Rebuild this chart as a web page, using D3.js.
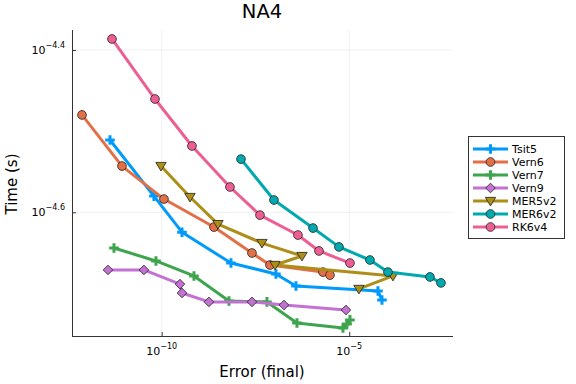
<!DOCTYPE html>
<html><head><meta charset="utf-8">
<script src="https://cdn.jsdelivr.net/npm/d3@7"></script>
<style>body{margin:0;background:#fff}svg{display:block;font-family:"DejaVu Sans",sans-serif}</style>
</head><body><svg id="c" width="576" height="384"></svg>
<script>
const seriesNames = ["Tsit5","Vern6","Vern7","Vern9","MER5v2","MER6v2","RK6v4"];
const seriesColors = ["#009AFA","#E36F47","#3EA44E","#C371D2","#AC8E18","#00A9AD","#ED5E93"];
const seriesMarkers = ["cross","circle","cross","diamond","dtriangle","circle","circle"];

const tsit5Err  = [4.19e-12, 6.23e-11, 3.48e-10, 7.03e-9, 1.11e-7, 3.80e-7, 5.82e-5, 7.44e-5];
const tsit5Time = [3.084e-5, 2.630e-5, 2.374e-5, 2.175e-5, 2.109e-5, 2.038e-5, 2.009e-5, 1.959e-5];
const vern6Err  = [7.52e-13, 8.75e-12, 1.15e-10, 2.48e-9, 2.55e-8, 7.70e-8, 1.99e-6, 3.06e-6];
const vern6Time = [3.311e-5, 2.864e-5, 2.608e-5, 2.409e-5, 2.238e-5, 2.163e-5, 2.120e-5, 2.102e-5];
const vern7Err  = [5.36e-12, 7.05e-11, 7.26e-10, 6.22e-9, 6.40e-8, 4.04e-7, 6.79e-6, 8.68e-6, 1.044e-5];
const vern7Time = [2.270e-5, 2.188e-5, 2.097e-5, 1.953e-5, 1.948e-5, 1.835e-5, 1.809e-5, 1.830e-5, 1.851e-5];
const vern9Err  = [3.71e-12, 3.37e-11, 3.07e-10, 3.48e-10, 1.82e-9, 2.55e-8, 1.82e-7, 8.17e-6];
const vern9Time = [2.133e-5, 2.133e-5, 2.049e-5, 1.998e-5, 1.948e-5, 1.948e-5, 1.931e-5, 1.904e-5];
const mer5Err   = [9.58e-11, 5.68e-10, 3.17e-9, 4.71e-8, 5.49e-7, 1.05e-7, 1.46e-4, 1.81e-5];
const mer5Time  = [2.864e-5, 2.623e-5, 2.429e-5, 2.302e-5, 2.219e-5, 2.163e-5, 2.097e-5, 2.021e-5];
const mer6Err   = [1.30e-8, 9.84e-8, 1.08e-6, 5.31e-6, 3.56e-5, 1.075e-4, 1.416e-3, 2.78e-3];
const mer6Time  = [2.921e-5, 2.601e-5, 2.402e-5, 2.277e-5, 2.194e-5, 2.120e-5, 2.091e-5, 2.056e-5];
const rk6Err    = [4.74e-12, 6.63e-11, 6.42e-10, 6.61e-9, 4.17e-8, 4.29e-7, 1.56e-6, 1.044e-5];
const rk6Time   = [4.107e-5, 3.464e-5, 3.032e-5, 2.699e-5, 2.492e-5, 2.355e-5, 2.251e-5, 2.175e-5];

const xTicks = [1e-10, 1e-5];
const xTickExp = ["\u221210", "\u22125"];
const yTicks = [Math.pow(10,-4.4), Math.pow(10,-4.6)];
const yTickExp = ["\u22124.4", "\u22124.6"];

const errs = [tsit5Err, vern6Err, vern7Err, vern9Err, mer5Err, mer6Err, rk6Err];
const times = [tsit5Time, vern6Time, vern7Time, vern9Time, mer5Time, mer6Time, rk6Time];

const svg = d3.select("#c");
const L = 72, R = 453, T = 30, B = 336;
const x = d3.scaleLog().domain([Math.pow(10,-12.39), Math.pow(10,-2.235)]).range([L, R]);
const y = d3.scaleLog().domain([Math.pow(10,-4.7524), Math.pow(10,-4.3754)]).range([B, T]);

// grid
const g = svg.append("g");
g.selectAll(".gx").data(xTicks).enter().append("line")
  .attr("x1", d=>x(d)).attr("x2", d=>x(d)).attr("y1", T).attr("y2", B)
  .attr("stroke", "#000").attr("stroke-opacity", 0.1).attr("stroke-width", 0.6);
g.selectAll(".gy").data(yTicks).enter().append("line")
  .attr("y1", d=>y(d)).attr("y2", d=>y(d)).attr("x1", L).attr("x2", R)
  .attr("stroke", "#000").attr("stroke-opacity", 0.1).attr("stroke-width", 0.6);

// axes
const xAxis = d3.axisBottom(x).tickValues(xTicks).tickSize(-4).tickFormat("");
const yAxis = d3.axisLeft(y).tickValues(yTicks).tickSize(-4).tickFormat("");
const ax = svg.append("g").attr("transform", `translate(0,${B})`).call(xAxis);
const ay = svg.append("g").attr("transform", `translate(${L},0)`).call(yAxis);
[ax, ay].forEach(a => {
  a.select(".domain").attr("stroke", "#333").attr("stroke-width", 1);
  a.selectAll(".tick line").attr("stroke", "#333").attr("stroke-width", 1);
});
ax.select(".domain").attr("d", `M${L},0.5H${R}`);
ay.select(".domain").attr("d", `M0.5,${B}V${T}`);

// tick labels
xTicks.forEach((v, i) => {
  const t = svg.append("text").attr("x", x(v)).attr("y", 355).attr("text-anchor", "middle")
    .attr("font-size", 11).attr("fill", "#000");
  t.append("tspan").text("10");
  t.append("tspan").attr("dy", -6).attr("font-size", 8).text(xTickExp[i]);
});
yTicks.forEach((v, i) => {
  const t = svg.append("text").attr("x", 65).attr("y", y(v) + 4).attr("text-anchor", "end")
    .attr("font-size", 11).attr("fill", "#000");
  t.append("tspan").text("10");
  t.append("tspan").attr("dy", -6).attr("font-size", 8).text(yTickExp[i]);
});

// titles
svg.append("text").attr("x", 262).attr("y", 18).attr("text-anchor", "middle")
  .attr("font-size", 19.5).text("NA4");
svg.append("text").attr("x", 262).attr("y", 377).attr("text-anchor", "middle")
  .attr("font-size", 15).text("Error (final)");
svg.append("text").attr("transform", "translate(16.5,184) rotate(-90)").attr("text-anchor", "middle")
  .attr("font-size", 15).text("Time (s)");

function markerPath(type) {
  if (type === "cross") {
    const a = 4.8, w = 1.5;
    return `M${-a},${-w}H${-w}V${-a}H${w}V${-w}H${a}V${w}H${w}V${a}H${-w}V${w}H${-a}Z`;
  }
  if (type === "diamond") { const s = 4.8; return `M0,${-s}L${s},0L0,${s}L${-s},0Z`; }
  if (type === "dtriangle") { const s = 5.2; return `M${-s},${-s*0.7}L${s},${-s*0.7}L0,${s*0.95}Z`; }
  return d3.symbol(d3.symbolCircle, 60)();
}

const line = d3.line().x(d => x(d[0])).y(d => y(d[1]));
const plot = svg.append("g");

seriesNames.forEach((name, i) => {
  const pts = errs[i].map((e, j) => [e, times[i][j]]);
  const sg = plot.append("g");
  sg.append("path").attr("d", line(pts)).attr("fill", "none")
    .attr("stroke", seriesColors[i]).attr("stroke-width", 3).attr("stroke-linejoin", "round");
  sg.selectAll("path.m").data(pts).enter().append("path").attr("class", "m")
    .attr("transform", d => `translate(${x(d[0])},${y(d[1])})`)
    .attr("d", markerPath(seriesMarkers[i]))
    .attr("fill", seriesColors[i])
    .attr("stroke", seriesMarkers[i] === "cross" ? "none" : "#222")
    .attr("stroke-width", 0.8);
});

// legend
const lg = svg.append("g");
lg.append("rect").attr("x", 468.5).attr("y", 136.5).attr("width", 96).attr("height", 102)
  .attr("fill", "#fff").attr("stroke", "#333").attr("stroke-width", 1);
seriesNames.forEach((name, i) => {
  const cy = 149 + i * 13;
  lg.append("line").attr("x1", 473).attr("x2", 508).attr("y1", cy).attr("y2", cy)
    .attr("stroke", seriesColors[i]).attr("stroke-width", 3);
  lg.append("path").attr("transform", `translate(490.5,${cy})`).attr("d", markerPath(seriesMarkers[i]))
    .attr("fill", seriesColors[i])
    .attr("stroke", seriesMarkers[i] === "cross" ? "none" : "#222").attr("stroke-width", 0.8);
  lg.append("text").attr("x", 512).attr("y", cy + 4).attr("font-size", 11).text(name);
});
</script></body></html>
